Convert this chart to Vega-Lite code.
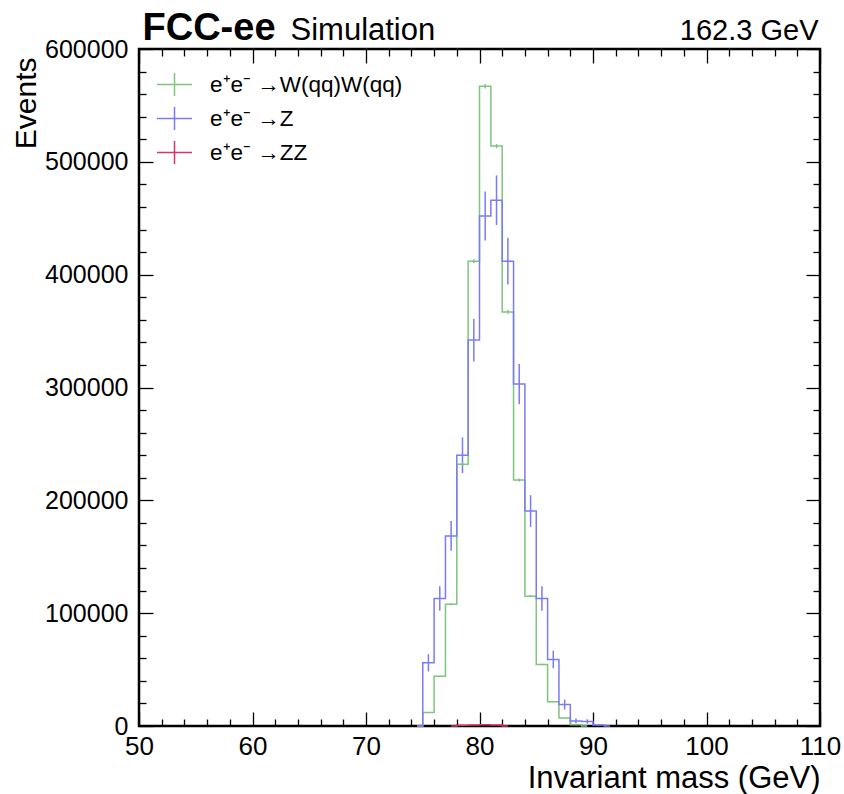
{
  "$schema": "https://vega.github.io/schema/vega-lite/v6.json",
  "width": 681,
  "height": 677,
  "autosize": {"type": "none"},
  "padding": {"left": 139, "top": 49, "right": 24, "bottom": 68},
  "background": "white",
  "config": {
    "view": {"stroke": "black", "strokeWidth": 2.5},
    "axis": {"grid": false, "domain": false, "tickColor": "black", "tickWidth": 1.3, "labelColor": "black", "titleColor": "black", "labelFont": "Liberation Sans", "titleFont": "Liberation Sans", "titleFontWeight": "normal"}
  },
  "data": {
    "values": [
      {"p": "e⁺e⁻ →W(qq)W(qq)", "m": 74.5, "n": 0, "e": 0},
      {"p": "e⁺e⁻ →W(qq)W(qq)", "m": 75.5, "n": 12000, "e": 300},
      {"p": "e⁺e⁻ →W(qq)W(qq)", "m": 76.5, "n": 44000, "e": 560},
      {"p": "e⁺e⁻ →W(qq)W(qq)", "m": 77.5, "n": 108000, "e": 875},
      {"p": "e⁺e⁻ →W(qq)W(qq)", "m": 78.5, "n": 232000, "e": 1280},
      {"p": "e⁺e⁻ →W(qq)W(qq)", "m": 79.5, "n": 412000, "e": 1700},
      {"p": "e⁺e⁻ →W(qq)W(qq)", "m": 80.5, "n": 567000, "e": 2000},
      {"p": "e⁺e⁻ →W(qq)W(qq)", "m": 81.5, "n": 514000, "e": 1900},
      {"p": "e⁺e⁻ →W(qq)W(qq)", "m": 82.5, "n": 367000, "e": 1610},
      {"p": "e⁺e⁻ →W(qq)W(qq)", "m": 83.5, "n": 218000, "e": 1240},
      {"p": "e⁺e⁻ →W(qq)W(qq)", "m": 84.5, "n": 115000, "e": 900},
      {"p": "e⁺e⁻ →W(qq)W(qq)", "m": 85.5, "n": 54500, "e": 625},
      {"p": "e⁺e⁻ →W(qq)W(qq)", "m": 86.5, "n": 21500, "e": 400},
      {"p": "e⁺e⁻ →W(qq)W(qq)", "m": 87.5, "n": 7000, "e": 230},
      {"p": "e⁺e⁻ →W(qq)W(qq)", "m": 88.5, "n": 1000, "e": 90},
      {"p": "e⁺e⁻ →W(qq)W(qq)", "m": 89.5, "n": 0, "e": 0},
      {"p": "e⁺e⁻ →Z", "m": 74.5, "n": 0, "e": 0},
      {"p": "e⁺e⁻ →Z", "m": 75.5, "n": 56000, "e": 7700},
      {"p": "e⁺e⁻ →Z", "m": 76.5, "n": 113000, "e": 10850},
      {"p": "e⁺e⁻ →Z", "m": 77.5, "n": 168500, "e": 13240},
      {"p": "e⁺e⁻ →Z", "m": 78.5, "n": 240000, "e": 15790},
      {"p": "e⁺e⁻ →Z", "m": 79.5, "n": 342000, "e": 18850},
      {"p": "e⁺e⁻ →Z", "m": 80.5, "n": 452000, "e": 21660},
      {"p": "e⁺e⁻ →Z", "m": 81.5, "n": 466000, "e": 22000},
      {"p": "e⁺e⁻ →Z", "m": 82.5, "n": 412000, "e": 20690},
      {"p": "e⁺e⁻ →Z", "m": 83.5, "n": 303000, "e": 17750},
      {"p": "e⁺e⁻ →Z", "m": 84.5, "n": 190500, "e": 14080},
      {"p": "e⁺e⁻ →Z", "m": 85.5, "n": 113000, "e": 10850},
      {"p": "e⁺e⁻ →Z", "m": 86.5, "n": 59000, "e": 7750},
      {"p": "e⁺e⁻ →Z", "m": 87.5, "n": 19000, "e": 4500},
      {"p": "e⁺e⁻ →Z", "m": 88.5, "n": 4500, "e": 2100},
      {"p": "e⁺e⁻ →Z", "m": 89.5, "n": 4000, "e": 1900},
      {"p": "e⁺e⁻ →Z", "m": 90.5, "n": 800, "e": 720},
      {"p": "e⁺e⁻ →Z", "m": 91.5, "n": 0, "e": 0},
      {"p": "e⁺e⁻ →ZZ", "m": 77.5, "n": 0, "e": 0},
      {"p": "e⁺e⁻ →ZZ", "m": 78.5, "n": 700, "e": 60},
      {"p": "e⁺e⁻ →ZZ", "m": 79.5, "n": 900, "e": 70},
      {"p": "e⁺e⁻ →ZZ", "m": 80.5, "n": 1000, "e": 70},
      {"p": "e⁺e⁻ →ZZ", "m": 81.5, "n": 800, "e": 60},
      {"p": "e⁺e⁻ →ZZ", "m": 82.5, "n": 0, "e": 0}
    ]
  },
  "layer": [
    {
      "mark": {"type": "line", "interpolate": "step", "strokeWidth": 1.5},
      "encoding": {
        "x": {
          "field": "m", "type": "quantitative",
          "scale": {"domain": [50, 110], "nice": false, "zero": false},
          "axis": {"orient": "bottom", "values": [50, 60, 70, 80, 90, 100, 110], "tickSize": -14, "labelFontSize": 26, "labelPadding": 21, "labelFlush": false, "labelOverlap": false,
                   "title": "Invariant mass (GeV)", "titleFontSize": 31, "titleAlign": "right", "titleAnchor": "end", "titleX": 681, "titleY": 61, "titleBaseline": "alphabetic"}
        },
        "y": {
          "field": "n", "type": "quantitative",
          "scale": {"domain": [0, 600000], "nice": false, "zero": true},
          "axis": {"orient": "left", "values": [0, 100000, 200000, 300000, 400000, 500000, 600000], "format": "d", "tickSize": -14, "labelFontSize": 25, "labelPadding": 25, "labelFlush": false, "labelOverlap": false,
                   "title": "Events", "titleFontSize": 30, "titleAngle": -90, "titleAlign": "right", "titleX": -104, "titleY": 8, "titleBaseline": "alphabetic"}
        },
        "color": {
          "field": "p", "type": "nominal",
          "scale": {"domain": ["e⁺e⁻ →W(qq)W(qq)", "e⁺e⁻ →Z", "e⁺e⁻ →ZZ"], "range": ["#7fc47f", "#7b7bf7", "#d6336c"]},
          "legend": {"orient": "top-left", "offset": 17, "padding": 0, "title": null, "symbolType": "M-1,0H1M0,-0.66V0.66", "symbolSize": 1225, "symbolStrokeWidth": 1.5, "symbolFillColor": "transparent",
                     "labelFont": "Liberation Sans", "labelFontSize": 22.5, "labelColor": "black", "labelOffset": 17, "rowPadding": 0, "labelLimit": 400}
        }
      }
    },
    {
      "transform": [{"filter": {"field": "p", "equal": "e⁺e⁻ →Z"}}],
      "mark": {"type": "errorbar", "ticks": false, "thickness": 1.5, "color": "#7b7bf7"},
      "encoding": {
        "x": {"field": "m", "type": "quantitative", "axis": {"orient": "bottom", "values": [52, 54, 56, 58, 62, 64, 66, 68, 72, 74, 76, 78, 82, 84, 86, 88, 92, 94, 96, 98, 102, 104, 106, 108], "tickSize": -7, "labels": false, "title": null}},
        "y": {"field": "n", "type": "quantitative", "axis": {"orient": "left", "values": [20000, 40000, 60000, 80000, 120000, 140000, 160000, 180000, 220000, 240000, 260000, 280000, 320000, 340000, 360000, 380000, 420000, 440000, 460000, 480000, 520000, 540000, 560000, 580000], "tickSize": -7, "labels": false, "title": null}},
        "yError": {"field": "e"}
      }
    },
    {
      "transform": [{"filter": {"field": "p", "equal": "e⁺e⁻ →W(qq)W(qq)"}}],
      "mark": {"type": "errorbar", "ticks": false, "thickness": 1.5, "color": "#7fc47f"},
      "encoding": {
        "x": {"field": "m", "type": "quantitative", "axis": {"orient": "top", "values": [50, 60, 70, 80, 90, 100, 110], "tickSize": -14, "labels": false,
              "title": "FCC-ee", "titleFont": "Liberation Sans", "titleFontWeight": "bold", "titleFontSize": 38, "titleAnchor": "start", "titleAlign": "left", "titleX": 3, "titleY": -10, "titleBaseline": "alphabetic"}},
        "y": {"field": "n", "type": "quantitative", "axis": {"orient": "right", "values": [0, 100000, 200000, 300000, 400000, 500000, 600000], "tickSize": -14, "labels": false,
              "title": "162.3 GeV", "titleFont": "Liberation Sans", "titleFontSize": 29, "titleAngle": 0, "titleAlign": "right", "titleX": -2, "titleY": -10, "titleBaseline": "alphabetic"}},
        "yError": {"field": "e"}
      }
    },
    {
      "transform": [{"filter": {"field": "p", "equal": "e⁺e⁻ →ZZ"}}],
      "mark": {"type": "errorbar", "ticks": false, "thickness": 1.5, "color": "#d6336c"},
      "encoding": {
        "x": {"field": "m", "type": "quantitative", "axis": {"orient": "top", "values": [52, 54, 56, 58, 62, 64, 66, 68, 72, 74, 76, 78, 82, 84, 86, 88, 92, 94, 96, 98, 102, 104, 106, 108], "tickSize": -7, "labels": false,
              "title": "Simulation", "titleFontSize": 31, "titleAnchor": "start", "titleAlign": "left", "titleX": 151, "titleY": -10, "titleBaseline": "alphabetic"}},
        "y": {"field": "n", "type": "quantitative", "axis": {"orient": "right", "values": [20000, 40000, 60000, 80000, 120000, 140000, 160000, 180000, 220000, 240000, 260000, 280000, 320000, 340000, 360000, 380000, 420000, 440000, 460000, 480000, 520000, 540000, 560000, 580000], "tickSize": -7, "labels": false, "title": null}},
        "yError": {"field": "e"}
      }
    }
  ],
  "resolve": {"axis": {"x": "independent", "y": "independent"}}
}
